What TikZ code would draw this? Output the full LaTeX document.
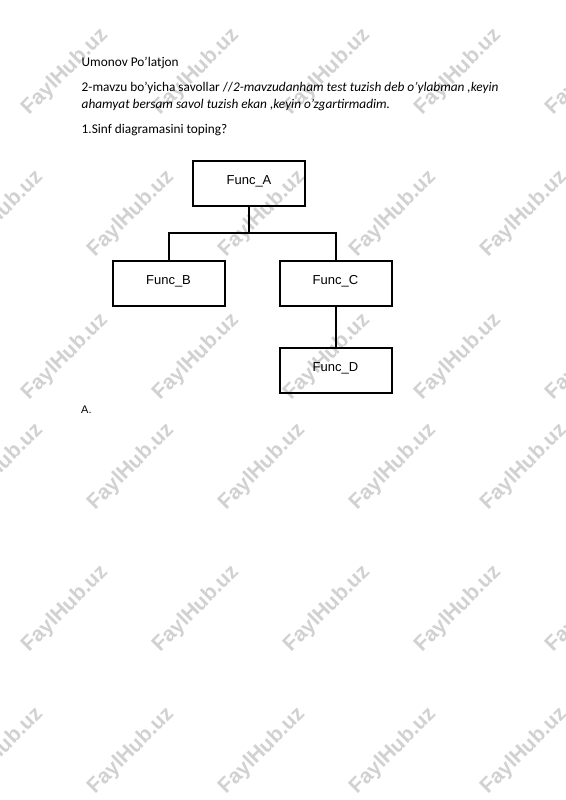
\documentclass[tikz,border=0pt]{standalone}
\usepackage{fontspec}
\setmainfont{Carlito}
\newfontfamily\arialfont{Liberation Sans}

\begin{document}
\begin{tikzpicture}[x=1pt,y=1pt]
  \tikzset{
    funcbox/.style={draw, line width=2pt, minimum width=112pt, minimum height=45pt,
      inner sep=0pt, text height=8pt, text depth=5.6pt,
      font=\arialfont\fontsize{13}{15}\selectfont},
    wmtext/.style={text=black!18, rotate=45, inner sep=0pt,
      font=\arialfont\bfseries\fontsize{21}{23}\selectfont},
    doctext/.style={anchor=base west, inner sep=0pt,
      font=\fontsize{13.3}{16.7}\selectfont}
  }

  \useasboundingbox (0,0) rectangle (565,-800);
  \fill[white] (0,0) rectangle (565,-800);

  % watermarks
  \foreach \y in {72,357,609}
    \foreach \x in {65,196,327,458,589}
      \node[wmtext] (wm-\x-\y) at (\x,-\y) {FaylHub.uz};
  \foreach \y in {214,467,751}
    \foreach \x in {0,131,262,393,524}
      \node[wmtext] (wm-\x-\y) at (\x,-\y) {FaylHub.uz};

  % page text
  \node[doctext] (author) at (81.5,-66.7) {Umonov Po’latjon};
  \node[doctext] (introa) at (81.5,-91.7) {2-mavzu bo’yicha savollar //\textit{2-mavzudanham test tuzish deb o’ylabman ,keyin}};
  \node[doctext] (introb) at (81.5,-108.4) {\textit{ahamyat bersam savol tuzish ekan ,keyin o’zgartirmadim.}};
  \node[doctext] (question) at (81.5,-133.3) {1.Sinf diagramasini toping?};
  \node[doctext, font=\arialfont\fontsize{11}{13}\selectfont] (answer) at (81,-413) {A.};

  % diagram
  \node[funcbox] (funcA) at (249,-183.5) {Func\_A};
  \node[funcbox] (funcB) at (168.5,-283.5) {Func\_B};
  \node[funcbox] (funcC) at (335.5,-283.5) {Func\_C};
  \node[funcbox] (funcD) at (335.5,-370.5) {Func\_D};

  \coordinate (split) at (249,-233);
  \draw[line width=2pt] (funcA.south) -- (split);
  \draw[line width=2pt] (funcB.north) |- (split) -| (funcC.north);
  \draw[line width=2pt] (funcC.south) -- (funcD.north);

\end{tikzpicture}
\end{document}
